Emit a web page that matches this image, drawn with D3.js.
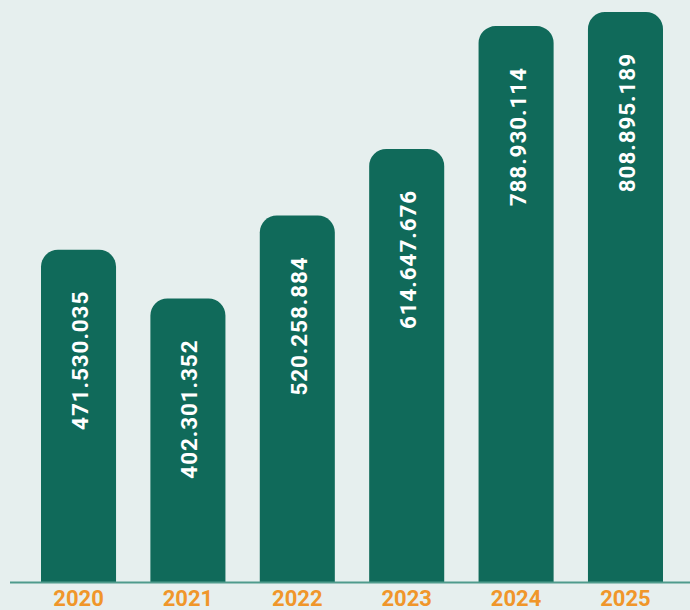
<!DOCTYPE html>
<html lang="en">
<head>
  <meta charset="UTF-8">
  <title>Yearly totals</title>
  <style>
    html, body { margin: 0; padding: 0; background: #e6efee; }
    svg { display: block; }
  </style>
</head>
<body>
  <div id="chart"></div>

  <script src="https://d3js.org/d3.v7.min.js"></script>
  <script>
    // data
    var years = ["2020", "2021", "2022", "2023", "2024", "2025"];
    var values = [471530035, 402301352, 520258884, 614647676, 788930114, 808895189];
    var labels = ["471.530.035", "402.301.352", "520.258.884", "614.647.676", "788.930.114", "808.895.189"];

    var width = 690, height = 610;
    var baseY = 582;

    var svg = d3.select("#chart")
      .append("svg")
      .attr("width", width)
      .attr("height", height);

    svg.append("rect")
      .attr("width", width)
      .attr("height", height)
      .attr("fill", "#e6efee");

    var x = d3.scaleBand()
      .domain(years)
      .range([41, 663])
      .paddingInner(0.314)
      .paddingOuter(0);

    var y = d3.scaleLinear()
      .domain([0, 826000000])
      .range([baseY, 0]);

    var r = 17;
    // bar with rounded top corners only
    function barPath(d, i) {
      var x0 = x(years[i]), w = x.bandwidth(), top = y(d), b = baseY;
      return "M" + x0 + "," + b +
        "V" + (top + r) +
        "A" + r + "," + r + " 0 0 1 " + (x0 + r) + "," + top +
        "H" + (x0 + w - r) +
        "A" + r + "," + r + " 0 0 1 " + (x0 + w) + "," + (top + r) +
        "V" + b + "Z";
    }

    svg.selectAll(".bar")
      .data(values)
      .enter()
      .append("path")
      .attr("class", "bar")
      .attr("d", barPath)
      .attr("fill", "#106a5a");

    // baseline
    svg.append("line")
      .attr("x1", 10)
      .attr("x2", width)
      .attr("y1", baseY + 0.5)
      .attr("y2", baseY + 0.5)
      .attr("stroke", "#4f9b8c")
      .attr("stroke-width", 2);

    // value labels, rotated inside the bars
    svg.selectAll(".val")
      .data(values)
      .enter()
      .append("text")
      .attr("class", "val")
      .attr("transform", function(d, i) {
        var cx = x(years[i]) + x.bandwidth() / 2 + 1.5;
        return "translate(" + (cx + 8) + "," + (y(d) + 41) + ") rotate(-90)";
      })
      .attr("text-anchor", "end")
      .attr("fill", "#ffffff")
      .style("font-family", "Roboto, 'DejaVu Sans', sans-serif")
      .style("font-weight", "bold")
      .style("font-size", "22.5px")
      .style("letter-spacing", "0.9px")
      .text(function(d, i) { return labels[i]; });

    // year labels
    svg.selectAll(".year")
      .data(years)
      .enter()
      .append("text")
      .attr("class", "year")
      .attr("x", function(d) { return x(d) + x.bandwidth() / 2; })
      .attr("y", 606)
      .attr("text-anchor", "middle")
      .attr("fill", "#f0962a")
      .style("font-family", "Roboto, 'DejaVu Sans', sans-serif")
      .style("font-weight", "bold")
      .style("font-size", "22px")
      .text(function(d) { return d; });
  </script>
</body>
</html>
